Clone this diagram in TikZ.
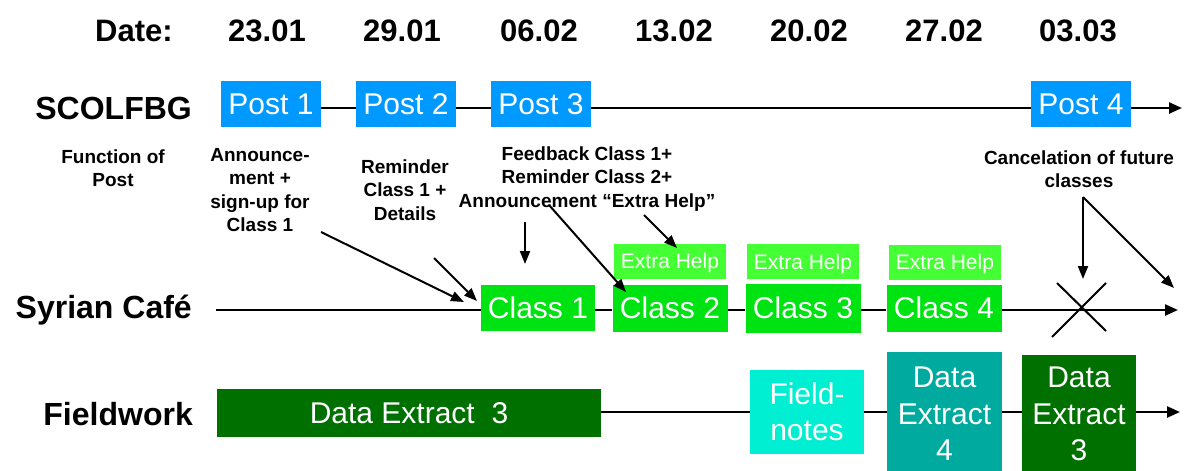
\documentclass[tikz,border=0pt]{standalone}
\usepackage{fontspec}
\setmainfont{Liberation Sans}
\usetikzlibrary{arrows.meta}
\definecolor{postblue}{HTML}{0099FF}
\definecolor{classgreen}{HTML}{00E312}
\definecolor{helpgreen}{HTML}{44FF33}
\definecolor{darkgreen}{HTML}{007000}
\definecolor{fnaqua}{HTML}{00EFD2}
\definecolor{tealfour}{HTML}{00AA9F}
\begin{document}
\begin{tikzpicture}[x=1pt,y=-1pt,
  box/.style={rectangle, inner sep=0pt, text=white, align=center,
    font=\fontsize{30}{36.5}\selectfont},
  helpbox/.style={rectangle, inner sep=0pt, text=white, fill=helpgreen,
    font=\fontsize{21}{25}\selectfont, minimum width=112pt, minimum height=35pt,
    text height=15pt, text depth=0pt},
  datefont/.style={inner sep=0pt, font=\bfseries\fontsize{31}{36}\selectfont},
  rowlabel/.style={inner sep=0pt, anchor=east, font=\bfseries\fontsize{32}{38}\selectfont},
  note/.style={inner sep=0pt, align=center, font=\bfseries\fontsize{19}{23.5}\selectfont},
  tl/.style={line width=2.4pt},
  tip/.style={-{Triangle[length=13pt,width=11pt]}},
  pointer/.style={line width=2pt, -{Triangle[length=13pt,width=10pt]}}
]
\clip (0,0) rectangle (1192,471);
\fill[white] (0,0) rectangle (1192,471);

% dates
\node[datefont] (dlab) at (134,31) {Date:};
\node[datefont] (d1) at (267,31) {23.01};
\node[datefont] (d2) at (402,31) {29.01};
\node[datefont] (d3) at (539,31) {06.02};
\node[datefont] (d4) at (674,31) {13.02};
\node[datefont] (d5) at (809,31) {20.02};
\node[datefont] (d6) at (944,31) {27.02};
\node[datefont] (d7) at (1078,31) {03.03};

% row labels
\node[rowlabel] (rs) at (192,108) {SCOLFBG};
\node[rowlabel] (rc) at (192,310) {Syrian Café};
\node[rowlabel] (rf) at (193,414) {Fieldwork};

% SCOLFBG row
\node[box, fill=postblue, minimum width=100pt, minimum height=46pt] (p1) at (271,104) {Post 1};
\node[box, fill=postblue, minimum width=100pt, minimum height=46pt] (p2) at (406,104) {Post 2};
\node[box, fill=postblue, minimum width=100pt, minimum height=46pt] (p3) at (541,104) {Post 3};
\node[box, fill=postblue, minimum width=100pt, minimum height=46pt] (p4) at (1081,104) {Post 4};
\coordinate (send) at (1182,108);
\draw[tl] ([yshift=-4pt]p1.east) -- ([yshift=-4pt]p2.west);
\draw[tl] ([yshift=-4pt]p2.east) -- ([yshift=-4pt]p3.west);
\draw[tl] ([yshift=-4pt]p3.east) -- ([yshift=-4pt]p4.west);
\draw[tl,tip] ([yshift=-4pt]p4.east) -- (send);

% notes
\node[note] (n0) at (113,168) {Function of\\Post};
\node[note] (n1) at (260,190) {Announce-\\ment +\\sign-up for\\Class 1};
\node[note] (n2) at (405,190) {Reminder\\Class 1 +\\Details};
\node[note] (n3) at (587,179) {Feedback Class 1+\\Reminder Class 2+\\Announcement “Extra Help”};
\node[note] (n4) at (1079,169) {Cancelation of future\\classes};

% Syrian Cafe row
\node[box, fill=classgreen, minimum width=114pt, minimum height=46pt] (c1) at (538,308) {Class 1};
\node[box, fill=classgreen, minimum width=115pt, minimum height=47pt] (c2) at (670,308) {Class 2};
\node[box, fill=classgreen, minimum width=115pt, minimum height=49pt] (c3) at (803,308) {Class 3};
\node[box, fill=classgreen, minimum width=115pt, minimum height=47pt] (c4) at (944,308) {Class 4};
\node[helpbox] (h2) at (670,261) {Extra Help};
\node[helpbox] (h3) at (803,261.5) {Extra Help};
\node[helpbox] (h4) at (945,262) {Extra Help};
\coordinate (cstart) at (216,310);
\coordinate (cend) at (1178,310);
\draw[tl] (cstart) -- (c1.west |- cstart);
\draw[tl] (c1.east |- cstart) -- (c2.west |- cstart);
\draw[tl] (c2.east |- cstart) -- (c3.west |- cstart);
\draw[tl] (c3.east |- cstart) -- (c4.west |- cstart);
\draw[tl,tip] (c4.east |- cstart) -- (cend);
% cancellation cross
\draw[line width=2pt] (1057,283) -- (1106,331);
\draw[line width=2pt] (1106,283) -- (1052,337);

% Fieldwork row
\node[box, fill=darkgreen, minimum width=384pt, minimum height=48pt] (e1) at (409,413) {Data Extract\ \ 3};
\node[box, fill=fnaqua, minimum width=114pt, minimum height=84pt] (fn) at (807,412) {Field-\\notes};
\node[box, fill=tealfour, minimum width=115pt, minimum height=124pt] (e4) at (944.5,414) {Data\\Extract\\4};
\node[box, fill=darkgreen, minimum width=114pt, minimum height=118pt] (e3) at (1079,414) {Data\\Extract\\3};
\coordinate (fend) at (1180,412);
\draw[tl] (e1.east |- fend) -- (fn.west |- fend);
\draw[tl] (fn.east |- fend) -- (e4.west |- fend);
\draw[tl] (e4.east |- fend) -- (e3.west |- fend);
\draw[tl,tip] (e3.east |- fend) -- (fend);

% pointer arrows
\coordinate (a1s) at (321,232); \coordinate (a1e) at (464,302);
\coordinate (a2s) at (434,258); \coordinate (a2e) at (477,301);
\coordinate (a3s) at (525,222); \coordinate (a3e) at (525,264);
\coordinate (a4s) at (549,205); \coordinate (a4e) at (626,292);
\coordinate (a5s) at (644,215); \coordinate (a5e) at (677,248);
\coordinate (a6s) at (1083,197); \coordinate (a6e) at (1083,279);
\coordinate (a7e) at (1174,288);
\draw[pointer] (a1s) -- (a1e);
\draw[pointer] (a2s) -- (a2e);
\draw[pointer] (a3s) -- (a3e);
\draw[pointer] (a4s) -- (a4e);
\draw[pointer] (a5s) -- (a5e);
\draw[pointer] (a6s) -- (a6e);
\draw[pointer] (a6s) -- (a7e);
\end{tikzpicture}
\end{document}
